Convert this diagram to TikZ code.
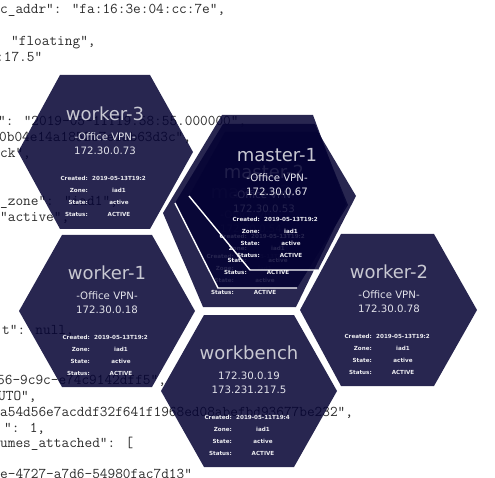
\documentclass[tikz,border=0pt]{standalone}
\usepackage{fontspec}
\setmainfont{DejaVu Sans}
\newfontfamily\smallfont{DejaVu Sans}

\definecolor{hexcol}{RGB}{5,3,52}
\definecolor{jsoncol}{RGB}{45,45,45}
\definecolor{titlecol}{RGB}{200,200,210}
\definecolor{linecol}{RGB}{226,226,234}
\definecolor{smallcol}{RGB}{238,238,242}

% texts of one hexagon card, centred on (#2,#3)
\newcommand{\hexcard}[7]{%
  \node[hextitle] (#1-title) at ({#2},{#3-35}) {#4};
  \node[hexline] (#1-vpn) at ({#2},{#3-15}) {#5};
  \node[hexline] (#1-ip) at ({#2},{#3-1}) {#6};
  \node[hexkey] (#1-ck) at ({#2-17},{#3+25}) {Created:};
  \node[hexval] (#1-cv) at ({#2+14},{#3+25}) {#7};
  \node[hexkey] (#1-zk) at ({#2-17},{#3+37}) {Zone:};
  \node[hexval] (#1-zv) at ({#2+14},{#3+37}) {iad1};
  \node[hexkey] (#1-sk) at ({#2-17},{#3+49}) {State:};
  \node[hexval] (#1-sv) at ({#2+14},{#3+49}) {active};
  \node[hexkey] (#1-tk) at ({#2-17},{#3+61}) {Status:};
  \node[hexval] (#1-tv) at ({#2+14},{#3+61}) {ACTIVE};
}

\begin{document}
\begin{tikzpicture}
  [x=1pt,y=-1pt,
   json/.style={anchor=base west,inner sep=0pt,text=jsoncol,font=\ttfamily\addfontfeatures{FakeBold=0.6}\fontsize{14.9}{16}\selectfont},
   hex/.style={fill=hexcol,fill opacity=.86},
   edge/.style={draw=white,line width=1.4pt,line join=miter},
   hexbase/.style={inner sep=0pt,text height=.72em,text depth=0pt},
   hextitle/.style={hexbase,text=titlecol,font=\fontsize{18}{20}\selectfont},
   hexline/.style={hexbase,text=linecol,font=\fontsize{10.2}{12}\selectfont},
   hexkey/.style={hexbase,anchor=east,text=smallcol,font=\smallfont\bfseries\fontsize{5.6}{7}\selectfont},
   hexval/.style={hexbase,text=smallcol,font=\smallfont\bfseries\fontsize{5.6}{7}\selectfont}]

  \fill[white] (0,0) rectangle (495,478);
  \useasboundingbox (0,0) rectangle (495,478);

  % json behind the cards
  \node[json] (j0) at (0,14) {c\_addr": "fa:16:3e:04:cc:7e",};
  \node[json] (j2) at (11,46) {"floating",};
  \node[json] (j3) at (-4,62) {:17.5"};
  \node[json] (j7) at (-2,126) {": "2019-05-11T19:58:55.000000",};
  \node[json] (j8) at (-1,142) {0b04e14a1852b7e1ab63d3c",};
  \node[json] (j9) at (0,158) {ck",};
  \node[json] (j12) at (0,206) {\_zone": "iad1",};
  \node[json] (j13) at (0,222) {"active",};
  \node[json] (j20) at (2,334) {t": null,};
  \node[json] (j23) at (-3,384) {56-9c9c-e74c9142dff5",};
  \node[json] (j24) at (-2,400) {UTO",};
  \node[json] (j25) at (0,416) {a54d56e7acddf32f641f1968ed08abefbd93677be232",};
  \node[json] (j26) at (4,432) {": 1,};
  \node[json] (j27) at (0,447) {umes\_attached": [};
  \node[json] (j29) at (0,478) {e-4727-a7d6-54980fac7d13"};

  % worker cards
  \fill[hex] (60,75) -- (150,75) -- (193,152) -- (150,229) -- (60,229) -- (18,152) -- cycle;
  \hexcard{w3}{105}{152}{worker-3}{-Office VPN-}{172.30.0.73}{2019-05-13T19:2}

  \fill[hex] (62,235) -- (152,235) -- (195,311) -- (152,387) -- (62,387) -- (19,311) -- cycle;
  \hexcard{w1}{107}{311}{worker-1}{-Office VPN-}{172.30.0.18}{2019-05-13T19:2}

  \fill[hex] (204,315) -- (294,315) -- (337,391) -- (294,467) -- (204,467) -- (161,391) -- cycle;
  \hexcard{wb}{249}{391}{workbench}{172.30.0.19}{173.231.217.5}{2019-05-11T19:4}

  \fill[hex] (341,234) -- (434,234) -- (477,310) -- (434,386) -- (341,386) -- (300,310) -- cycle;
  \hexcard{w2}{389}{310}{worker-2}{-Office VPN-}{172.30.0.78}{2019-05-13T19:2}

  % master stack, back to front
  \fill[hex] (222,115) -- (313,115) -- (346,204) -- (296,307) -- (203,307) -- (163,213) -- cycle;
  \hexcard{m3}{251}{230}{master-3}{-Office VPN-}{172.30.0.54}{2019-05-13T19:2}

  \fill[hex] (223,124) -- (315,124) -- (348,205) -- (297,288) -- (218,288) -- (175,203) -- cycle;
  \draw[edge] (175,203) -- (218,288) -- (297,288);
  \hexcard{m2}{264}{210}{master-2}{-Office VPN-}{172.30.0.53}{2019-05-13T19:2}

  \fill[hex] (225,132) -- (318,132) -- (356,196) -- (318,270) -- (250,270) -- (189,196) -- cycle;
  \draw[edge] (189,196) -- (250,270) -- (318,270);
  \hexcard{m1}{277}{193}{master-1}{-Office VPN-}{172.30.0.67}{2019-05-13T19:2}

\end{tikzpicture}
\end{document}
